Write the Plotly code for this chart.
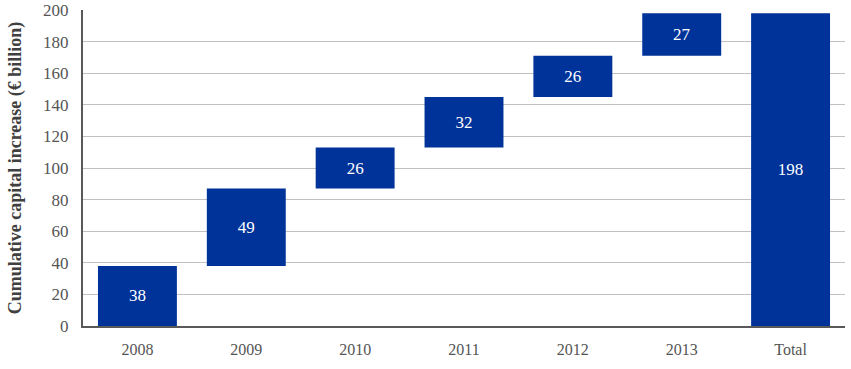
import plotly.graph_objects as go

categories = ["2008", "2009", "2010", "2011", "2012", "2013", "Total"]
increases = [38, 49, 26, 32, 26, 27, 198]
measures = ["relative"] * 6 + ["total"]
labels = [str(v) for v in increases]

bar_color = "#003399"
serif = "Liberation Serif, Times New Roman, serif"

fig = go.Figure(go.Waterfall(
    x=categories,
    y=increases,
    measure=measures,
    text=labels,
    texttemplate="<span style=\"font-family:'Liberation Serif',serif\">%{text}</span>",
    textposition="inside",
    insidetextanchor="middle",
    textfont=dict(family=serif, size=17, color="white"),
    insidetextfont=dict(family=serif, size=17, color="white"),
    increasing=dict(marker=dict(color=bar_color, line=dict(width=0))),
    totals=dict(marker=dict(color=bar_color, line=dict(width=0))),
    connector=dict(visible=False),
    width=[0.725] * 7,
    hoverinfo="skip",
    constraintext="none",
))

fig.update_layout(
    width=851, height=369,
    margin=dict(l=83, r=6, t=10, b=43),
    plot_bgcolor="white", paper_bgcolor="white",
    showlegend=False,
    hovermode=False,
    font=dict(family=serif, size=16, color="#555555"),
)
fig.update_yaxes(
    range=[0, 200], dtick=20, tick0=0,
    showgrid=True, gridcolor="#c0c0c0", gridwidth=1,
    showline=True, linecolor="#595959", linewidth=2,
    ticks="", ticklen=0,
    ticklabelstandoff=9,
    tickfont=dict(family=serif, size=17, color="#555555"),
    title=dict(text="<b>Cumulative capital increase (€ billion)</b>",
               font=dict(family=serif, size=18, color="#404040"), standoff=17),
    zeroline=False,
    automargin=False,
    ticklabeloverflow="allow",
)
fig.update_xaxes(
    showline=True, linecolor="#595959", linewidth=2,
    ticks="", showgrid=False,
    ticklabelstandoff=8,
    tickfont=dict(family=serif, size=16, color="#555555"),
    automargin=False,
)

# remove the default 8px page margin so the figure sits at the window origin
fig.write_html("out.html", config={"displayModeBar": False},
               post_script="document.body.style.margin='0';")
